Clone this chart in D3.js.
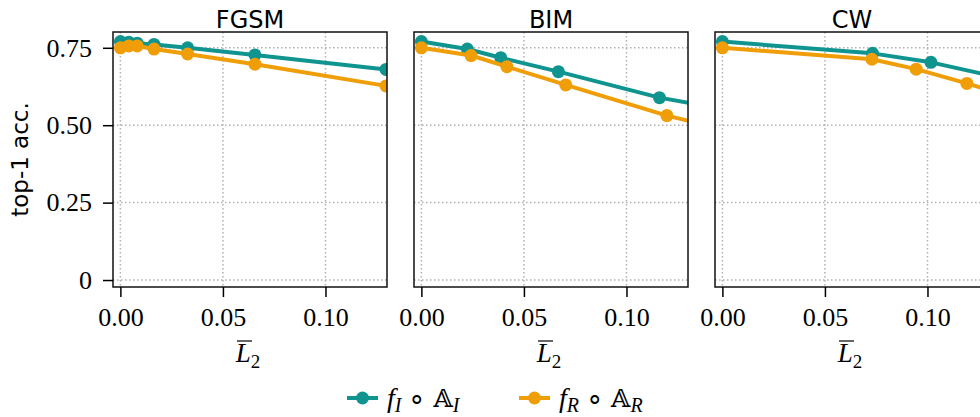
<!DOCTYPE html>
<html>
<head>
<meta charset="UTF-8">
<script src="https://d3js.org/d3.v7.min.js"></script>
</head>
<body style="margin:0; background:#fff; overflow:hidden">
<div id="chart"></div>
<script>
// panels and series
const panelNames = ["FGSM", "BIM", "CW"];
const seriesNames = ["I", "R"];
const colors = { I: "#10948f", R: "#f09e08" };

// FGSM
const fgsmL2I  = [0, 0.0041, 0.0082, 0.0164, 0.0328, 0.0656, 0.1295];
const fgsmAccI = [0.770, 0.768, 0.765, 0.761, 0.750, 0.727, 0.680];
const fgsmL2R  = [0, 0.0041, 0.0082, 0.0164, 0.0328, 0.0656, 0.1295];
const fgsmAccR = [0.750, 0.756, 0.756, 0.746, 0.730, 0.697, 0.627];
// BIM
const bimL2I  = [0, 0.0224, 0.0387, 0.0668, 0.1161, 0.200];
const bimAccI = [0.770, 0.746, 0.718, 0.673, 0.589, 0.489];
const bimL2R  = [0, 0.0242, 0.0417, 0.0704, 0.1197, 0.200];
const bimAccR = [0.750, 0.725, 0.689, 0.630, 0.531, 0.400];
// CW
const cwL2I  = [0, 0.0732, 0.1017, 0.135];
const cwAccI = [0.770, 0.732, 0.703, 0.654];
const cwL2R  = [0, 0.0729, 0.0945, 0.1192, 0.135];
const cwAccR = [0.750, 0.713, 0.681, 0.635, 0.604];

const xTicks = [0, 0.05, 0.10];
const yTicks = [0, 0.25, 0.50, 0.75];

const panelData = [
  { I: [fgsmL2I, fgsmAccI], R: [fgsmL2R, fgsmAccR] },
  { I: [bimL2I, bimAccI],   R: [bimL2R, bimAccR] },
  { I: [cwL2I, cwAccI],     R: [cwL2R, cwAccR] }
];

const SERIF = "Liberation Serif";
const SANS = "DejaVu Sans";

const W = 980, H = 417;
const boxW = 274, boxH = 255, boxTop = 32, step = 301, left0 = 113;

const svg = d3.select("#chart").append("svg")
  .attr("width", W).attr("height", H);

const x = d3.scaleLinear().domain([-0.0036, 0.130]).range([0, boxW]);
const y = d3.scaleLinear().domain([-0.0225, 0.801]).range([boxH, 0]);

const line = d3.line().x(d => x(d[0])).y(d => y(d[1]));

function styleAxis(a) {
  a.select(".domain").remove();
  a.attr("font-family", SERIF).attr("font-size", 26);
  a.selectAll(".tick line").attr("stroke", "#000").attr("stroke-width", 1.5);
  a.selectAll(".tick text").attr("fill", "#000");
}

panelNames.forEach((name, i) => {
  const g = svg.append("g").attr("transform", `translate(${left0 + i * step},${boxTop})`);

  g.append("clipPath").attr("id", "clip" + i)
    .append("rect").attr("width", boxW).attr("height", boxH);

  // grid
  g.append("g").selectAll("line").data(xTicks).join("line")
    .attr("x1", d => x(d)).attr("x2", d => x(d)).attr("y1", 0).attr("y2", boxH)
    .attr("stroke", "#b0b0b0").attr("stroke-width", 1.5).attr("stroke-dasharray", "1.5,2.5");
  g.append("g").selectAll("line").data(yTicks).join("line")
    .attr("y1", d => y(d)).attr("y2", d => y(d)).attr("x1", 0).attr("x2", boxW)
    .attr("stroke", "#b0b0b0").attr("stroke-width", 1.5).attr("stroke-dasharray", "1.5,2.5");

  const plot = g.append("g").attr("clip-path", `url(#clip${i})`);
  seriesNames.forEach(s => {
    const [xs, ys] = panelData[i][s];
    const pts = xs.map((v, k) => [v, ys[k]]);
    plot.append("path").datum(pts).attr("d", line)
      .attr("fill", "none").attr("stroke", colors[s]).attr("stroke-width", 4)
      .attr("stroke-linejoin", "round");
    plot.selectAll(null).data(pts).join("circle")
      .attr("cx", d => x(d[0])).attr("cy", d => y(d[1])).attr("r", 6.5)
      .attr("fill", colors[s]);
  });

  // frame
  g.append("rect").attr("width", boxW).attr("height", boxH)
    .attr("fill", "none").attr("stroke", "#111").attr("stroke-width", 1.5);

  // x axis
  const xa = g.append("g").attr("transform", `translate(0,${boxH})`)
    .call(d3.axisBottom(x).tickValues(xTicks).tickSize(10).tickPadding(11)
      .tickFormat(d3.format(".2f")));
  styleAxis(xa);

  if (i === 0) {
    const ya = g.append("g")
      .call(d3.axisLeft(y).tickValues(yTicks).tickSize(10).tickPadding(11)
        .tickFormat(d => d === 0 ? "0" : d3.format(".2f")(d)));
    styleAxis(ya);

    g.append("text")
      .attr("transform", `translate(${20 - left0},${boxH / 2}) rotate(-90)`)
      .attr("text-anchor", "middle").attr("dy", "0.35em")
      .attr("font-family", SANS).attr("font-size", 23)
      .text("top-1 acc.");
  }

  // title
  g.append("text").attr("x", boxW / 2).attr("y", 28 - boxTop)
    .attr("text-anchor", "middle")
    .attr("font-family", SANS).attr("font-size", 24)
    .text(name);

  // x label: L-bar subscript 2
  const xl = g.append("text")
    .attr("x", boxW / 2 - 2).attr("y", 362 - boxTop)
    .attr("text-anchor", "middle")
    .attr("font-family", SERIF).attr("font-size", 27);
  xl.append("tspan").attr("font-style", "italic").text("L");
  xl.append("tspan").attr("dy", 6).attr("font-size", 19).text("2");
  const lx = boxW / 2 - 2 - 12;
  g.append("line").attr("x1", lx + 1).attr("x2", lx + 16)
    .attr("y1", 341 - boxTop).attr("y2", 341 - boxTop)
    .attr("stroke", "#000").attr("stroke-width", 1.2);
});

// legend
const legend = svg.append("g").attr("transform", "translate(0,398)");
const legendItems = [
  { s: "I", x0: 347, label: "I" },
  { s: "R", x0: 519, label: "R" }
];
legendItems.forEach(it => {
  legend.append("line").attr("x1", it.x0).attr("x2", it.x0 + 31)
    .attr("stroke", colors[it.s]).attr("stroke-width", 4);
  legend.append("circle").attr("cx", it.x0 + 15.5).attr("r", 6.5).attr("fill", colors[it.s]);
  const t = legend.append("text")
    .attr("x", it.x0 + 40).attr("y", 9)
    .attr("font-family", SERIF).attr("font-size", 28);
  t.append("tspan").attr("font-style", "italic").text("f");
  t.append("tspan").attr("dy", 5).attr("font-style", "italic").attr("font-size", 20).text(it.label);
  t.append("tspan").attr("dy", -5).text(" \u2218 ");
  t.append("tspan").attr("font-family", "DejaVu Serif").attr("font-size", 25).text("\uD835\uDD38");
  t.append("tspan").attr("dy", 5).attr("font-style", "italic").attr("font-size", 20).text(it.label);
});
</script>
</body>
</html>
